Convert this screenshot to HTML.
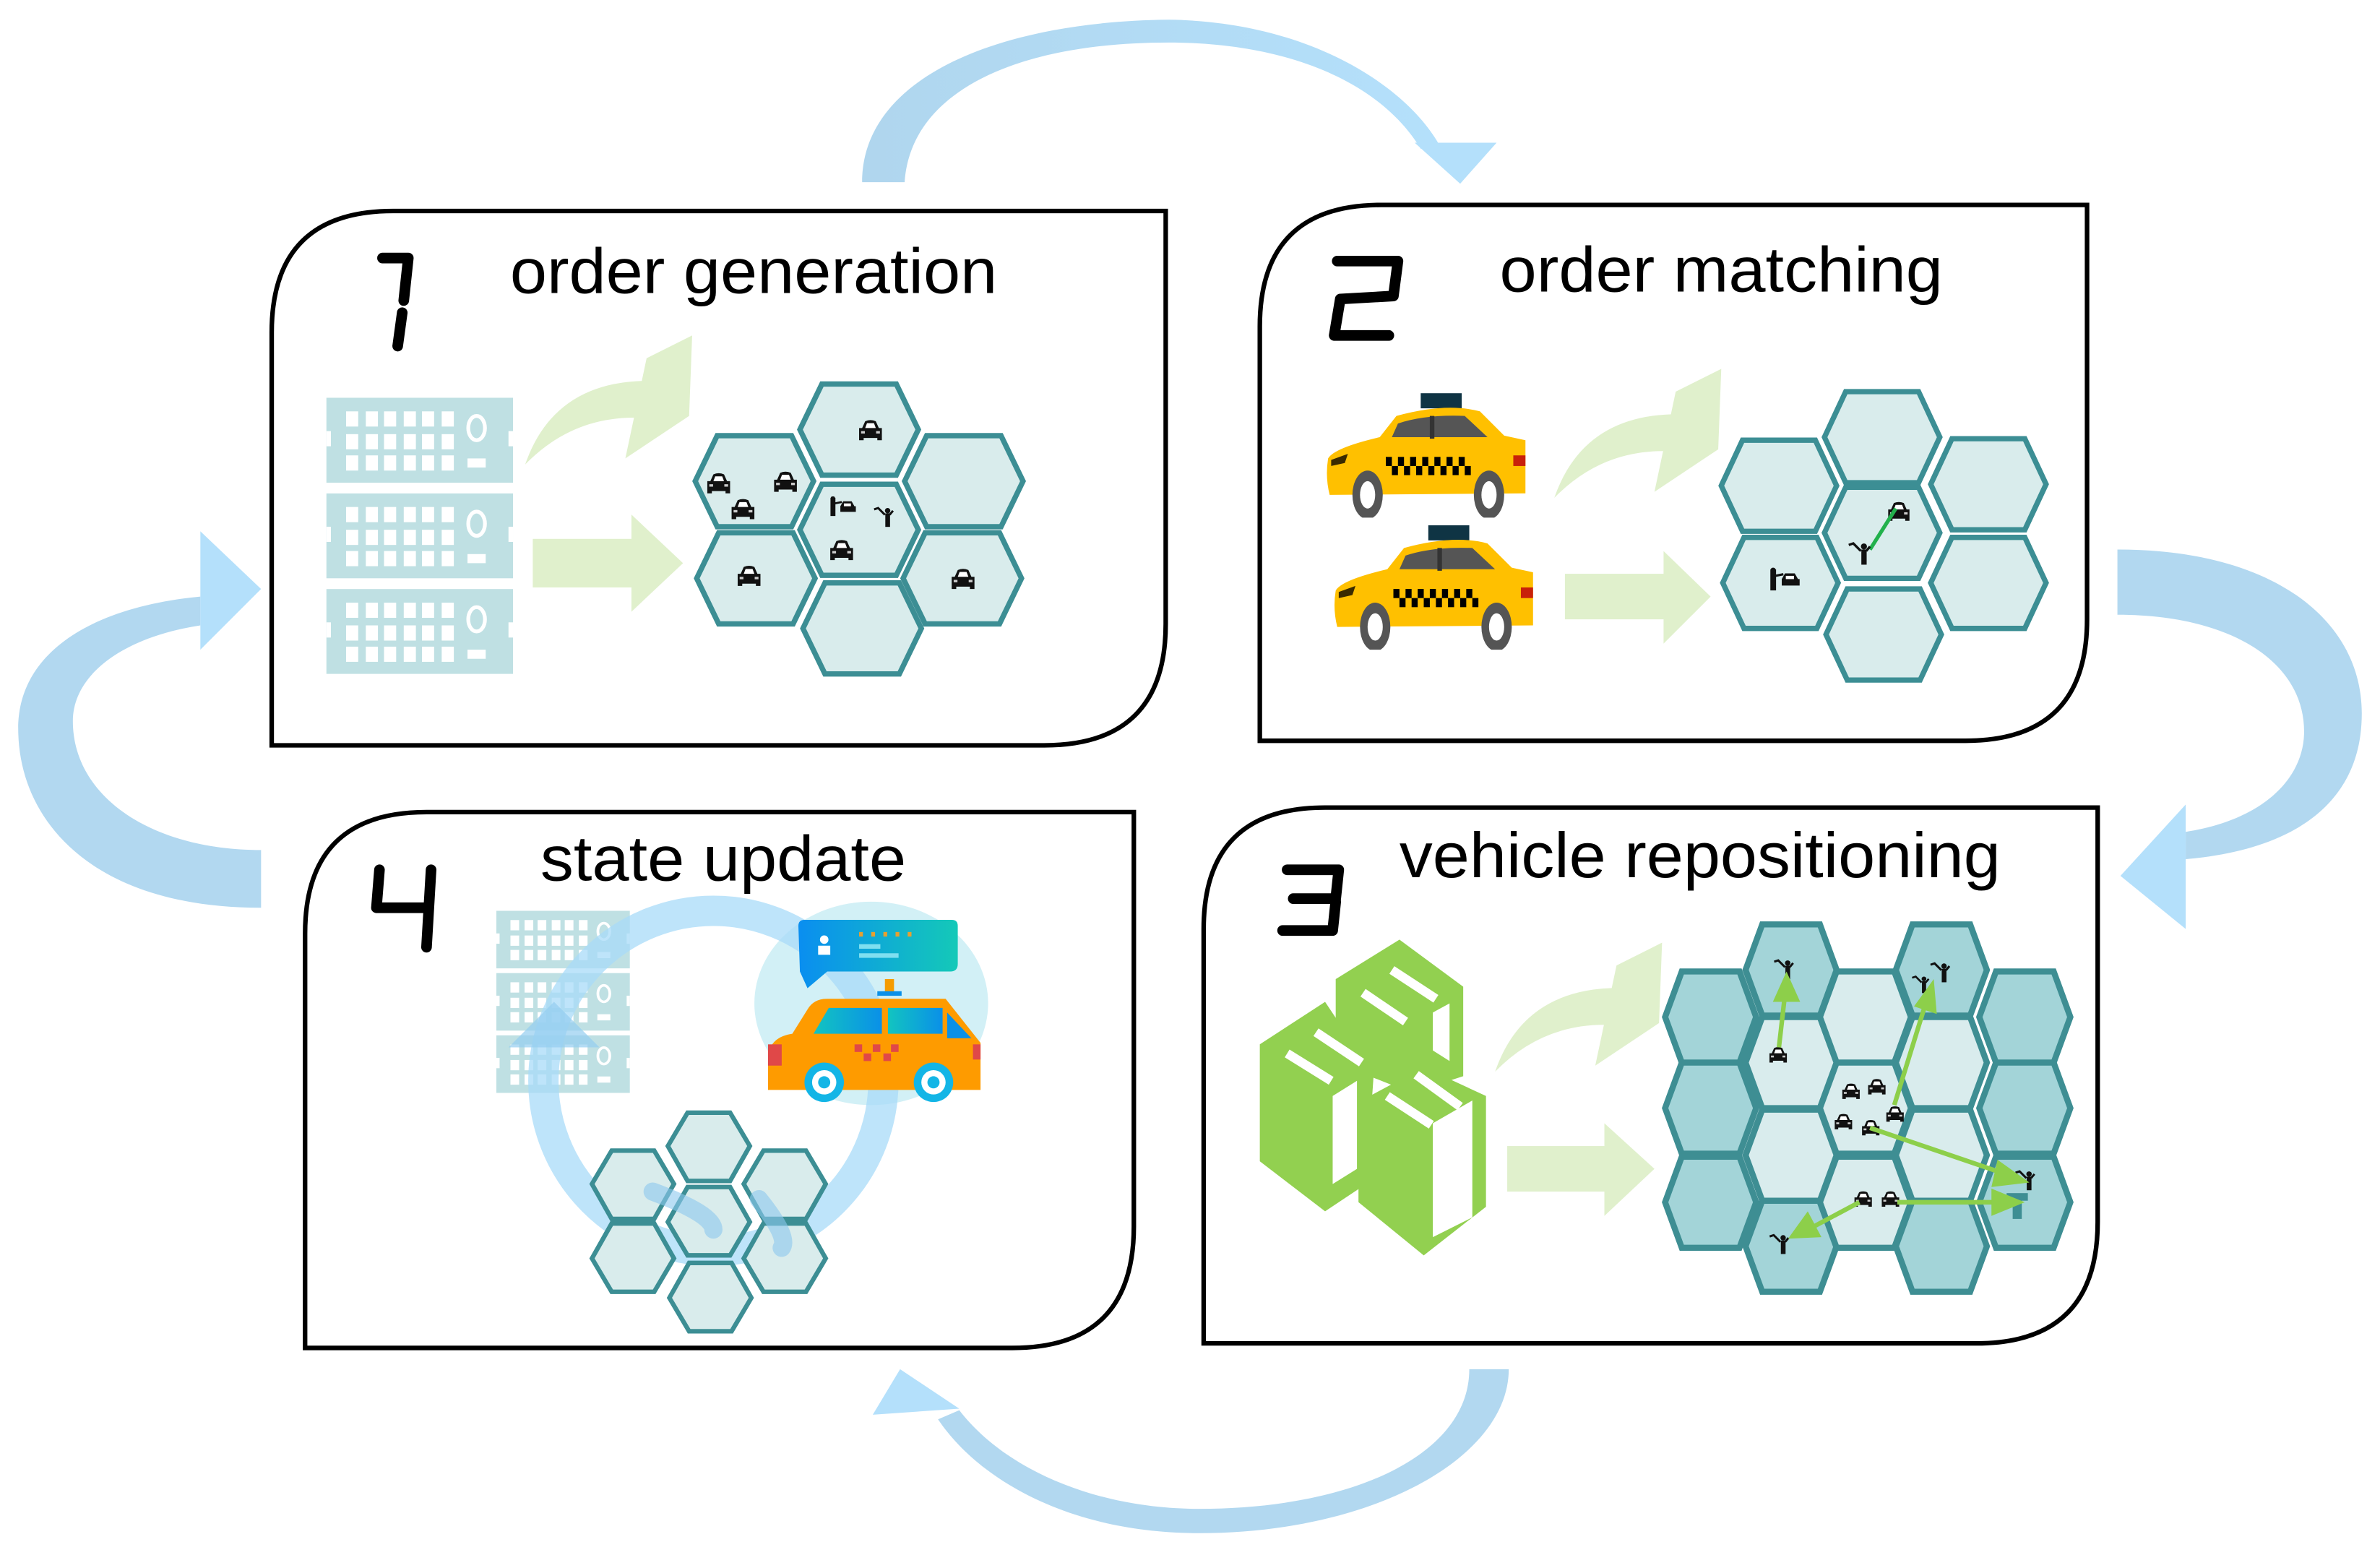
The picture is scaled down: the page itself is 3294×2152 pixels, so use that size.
<!DOCTYPE html>
<html><head><meta charset="utf-8"><style>
html,body{margin:0;padding:0;background:#fff;}
svg{display:block;}
text{font-family:"Liberation Sans",Arial,sans-serif;}
</style></head><body>
<svg width="3294" height="2152" viewBox="0 0 1568 1024.4" preserveAspectRatio="none" xmlns="http://www.w3.org/2000/svg">
<defs>
<linearGradient id="arcg" x1="0" y1="0" x2="1" y2="0"><stop offset="0" stop-color="#b0d6ee"/><stop offset="1" stop-color="#b4e0fb"/></linearGradient>
<symbol id="rack" viewBox="0 0 123 56" preserveAspectRatio="none">
<rect x="0" y="0" width="123" height="56" fill="#bfe0e3"/>
<rect x="0" y="22" width="3" height="10" fill="#fff"/><rect x="120" y="22" width="3" height="10" fill="#fff"/>
<g fill="#fff">
<rect x="13" y="9" width="8" height="10"/><rect x="26" y="9" width="8" height="10"/><rect x="38" y="9" width="8" height="10"/><rect x="51" y="9" width="8" height="10"/><rect x="63" y="9" width="8" height="10"/><rect x="76" y="9" width="8" height="10"/>
<rect x="13" y="24" width="8" height="10"/><rect x="26" y="24" width="8" height="10"/><rect x="38" y="24" width="8" height="10"/><rect x="51" y="24" width="8" height="10"/><rect x="63" y="24" width="8" height="10"/><rect x="76" y="24" width="8" height="10"/>
<rect x="13" y="38" width="8" height="10"/><rect x="26" y="38" width="8" height="10"/><rect x="38" y="38" width="8" height="10"/><rect x="51" y="38" width="8" height="10"/><rect x="63" y="38" width="8" height="10"/><rect x="76" y="38" width="8" height="10"/>
<rect x="93" y="40" width="12" height="6"/>
</g>
<ellipse cx="99" cy="20" rx="5.5" ry="8" fill="none" stroke="#fff" stroke-width="2.5"/>
</symbol>
<symbol id="car" viewBox="0 0 17 15">
<path d="M3,6 L5,1.5 Q8.5,0 12,1.5 L14,6 L16,6 L16,14 L13,14 L13,12.5 L4,12.5 L4,14 L1,14 L1,6 Z" fill="#111"/>
<path d="M5,6 L6.2,2.8 L10.8,2.8 L12,6 Z" fill="#fff"/>
<rect x="2.3" y="8" width="2.5" height="1.6" fill="#ccc"/><rect x="12.2" y="8" width="2.5" height="1.6" fill="#ccc"/>
</symbol>
<symbol id="person" viewBox="0 0 18 18">
<circle cx="11" cy="5" r="2" fill="#111"/>
<rect x="9.3" y="7" width="3.5" height="10" fill="#111"/>
<path d="M1,4 L4,3 L9,8 M12.5,8 L15,5" stroke="#111" stroke-width="1.6" fill="none"/>
</symbol>
<symbol id="pcar" viewBox="0 0 20 14">
<rect x="1" y="1" width="3.5" height="13" fill="#111"/><circle cx="2.7" cy="1.5" r="1.6" fill="#111"/>
<path d="M4,5 L9,4" stroke="#111" stroke-width="1.4"/>
<path d="M8,7 L10,3.5 L16,3.5 L18,7 L19,7 L19,11 L8,11 Z" fill="#111"/><rect x="10.5" y="5" width="5" height="2" fill="#fff"/>
</symbol>
<symbol id="taxi" viewBox="0 0 134 82">
<rect x="63" y="0" width="27" height="10" fill="#0f3444"/>
<path d="M2,43 Q6,36 36,29 L47,15 Q80,6 102,12 L118,28 L132,31 L132,66 L3,67 Q0,55 2,43 Z" fill="#ffc000"/>
<path d="M44,29 L48,20 Q66,14 92,15 L107,29 Z" fill="#555"/>
<rect x="69" y="15" width="3" height="15" fill="#333"/>
<g fill="#000"><rect x="40" y="42" width="4" height="6"/><rect x="48" y="42" width="4" height="6"/><rect x="56" y="42" width="4" height="6"/><rect x="64" y="42" width="4" height="6"/><rect x="72" y="42" width="4" height="6"/><rect x="80" y="42" width="4" height="6"/><rect x="88" y="42" width="4" height="6"/>
<rect x="44" y="48" width="4" height="6"/><rect x="52" y="48" width="4" height="6"/><rect x="60" y="48" width="4" height="6"/><rect x="68" y="48" width="4" height="6"/><rect x="76" y="48" width="4" height="6"/><rect x="84" y="48" width="4" height="6"/><rect x="92" y="48" width="4" height="6"/></g>
<path d="M4,44 L15,40 L13,46 L4,48 Z" fill="#3a2a00"/>
<rect x="124" y="41" width="8" height="7" fill="#c8200a"/>
<ellipse cx="28" cy="67" rx="10" ry="16" fill="#555"/><ellipse cx="28" cy="67" rx="5" ry="9" fill="#fff"/>
<ellipse cx="108" cy="67" rx="10" ry="16" fill="#555"/><ellipse cx="108" cy="67" rx="5" ry="9" fill="#fff"/>
</symbol>
<symbol id="garrow" viewBox="0 0 110 80" overflow="visible">
<path d="M0,80 Q20,22 88,25 L86,50 Q35,44 0,80 Z" fill="#e0f0cc"/>
<polygon points="80,10 110,-5 108,48 66,76" fill="#e0f0cc"/>
</symbol>
</defs>

<!-- outer cycle arrows -->
<path d="M568,120 C568,50 660,14 770,13 C860,14 925,55 948,95 L936,98 C910,55 850,28 770,28 C670,28 600,60 596,120 Z" fill="url(#arcg)"/>
<polygon points="932,94 986,94 962,121" fill="#b4e0fb"/>
<path d="M1395,362 C1500,362 1556,410 1556,470 C1556,530 1510,560 1440,566 L1440,548 C1492,540 1518,512 1518,482 C1518,436 1470,405 1395,405 Z" fill="#b2d8f0"/>
<polygon points="1440,530 1397,577 1440,612" fill="#b4e0fb"/>
<path d="M172,598 C60,598 12,540 12,480 C12,430 60,400 132,393 L132,412 C80,420 48,445 48,475 C48,525 100,560 172,560 Z" fill="#b2d8f0"/>
<polygon points="132,350 172,388 132,428" fill="#b4e0fb"/>
<path d="M968,902 L994,902 C994,960 905,1010 790,1010 C705,1010 645,975 618,935 L632,929 C662,968 722,994 790,994 C892,994 968,958 968,902 Z" fill="#b2d8f0"/>
<polygon points="593,902 575,932 632,928" fill="#b4e0fb"/>

<!-- Boxes -->
<g fill="#fff" stroke="#000" stroke-width="3">
<path d="M259,139 L768,139 L768,411 Q768,491 688,491 L179,491 L179,219 Q179,139 259,139 Z"/>
<path d="M910,135 L1375,135 L1375,408 Q1375,488 1295,488 L830,488 L830,215 Q830,135 910,135 Z"/>
<path d="M281,535 L747,535 L747,808 Q747,888 667,888 L201,888 L201,615 Q201,535 281,535 Z"/>
<path d="M873,532 L1382,532 L1382,805 Q1382,885 1302,885 L793,885 L793,612 Q793,532 873,532 Z"/>
</g>

<!-- digits -->
<g fill="none" stroke="#000" stroke-width="7" stroke-linecap="round" stroke-linejoin="round">
<path d="M252,170 L269,170 L266,198 M265,206 L262,228"/>
<path d="M881,172 L921,172 L918,195 L883,197 L879,221 L915,221"/>
<path d="M848,573 L882,573 L880,592 L852,592 M880,594 L878,613 L845,613"/>
<path d="M250,573 L248,598 L280,598 M284,573 L281,624"/>
</g>

<!-- titles -->
<g font-size="42" fill="#000">
<text x="336" y="193" textLength="321" lengthAdjust="spacingAndGlyphs">order generation</text>
<text x="988" y="192" textLength="292" lengthAdjust="spacingAndGlyphs">order matching</text>
<text x="356" y="580" textLength="241" lengthAdjust="spacingAndGlyphs">state update</text>
<text x="922" y="578" textLength="396" lengthAdjust="spacingAndGlyphs">vehicle repositioning</text>
</g>

<!-- Box1 content -->
<use href="#rack" x="215" y="262" width="123" height="56"/>
<use href="#rack" x="215" y="325" width="123" height="56"/>
<use href="#rack" x="215" y="388" width="123" height="56"/>
<rect x="351" y="355" width="66" height="32" fill="#e0f0cc"/>
<polygon points="416,339 450,371 416,403" fill="#e0f0cc"/>
<use href="#garrow" x="346" y="226" width="110" height="80"/>
<g fill="#d9ecec" stroke="#3c8e94" stroke-width="3.5">
<polygon points="527,283 541.5,253 590.5,253 605,283 590.5,313 541.5,313"/>
<polygon points="458,317 472.5,287 521.5,287 536,317 521.5,347 472.5,347"/>
<polygon points="596,317 610.5,287 659.5,287 674,317 659.5,347 610.5,347"/>
<polygon points="527,349 541.5,319 590.5,319 605,349 590.5,379 541.5,379"/>
<polygon points="459,381 473.5,351 522.5,351 537,381 522.5,411 473.5,411"/>
<polygon points="595,381 609.5,351 658.5,351 673,381 658.5,411 609.5,411"/>
<polygon points="529,414 543.5,384 592.5,384 607,414 592.5,444 543.5,444"/>
</g>
<use href="#car" x="565" y="276" width="17" height="15"/>
<use href="#car" x="465" y="311" width="17" height="15"/>
<use href="#car" x="509" y="310" width="17" height="15"/>
<use href="#car" x="481" y="328" width="17" height="15"/>
<use href="#pcar" x="546" y="327" width="19" height="13"/>
<use href="#person" x="575" y="332" width="16" height="16"/>
<use href="#car" x="546" y="355" width="17" height="15"/>
<use href="#car" x="485" y="372" width="17" height="15"/>
<use href="#car" x="626" y="374" width="17" height="15"/>

<!-- Box2 content -->
<use href="#taxi" x="873" y="259" width="134" height="82"/>
<use href="#taxi" x="878" y="346" width="134" height="82"/>
<rect x="1031" y="378" width="66" height="30" fill="#e0f0cc"/>
<polygon points="1096,363 1127,393 1096,424" fill="#e0f0cc"/>
<use href="#garrow" x="1024" y="248" width="110" height="80"/>
<g fill="#d9ecec" stroke="#3c8e94" stroke-width="3.5">
<polygon points="1202,288 1216,258 1264,258 1278,288 1264,318 1216,318"/>
<polygon points="1134,320 1148,290 1196,290 1210,320 1196,350 1148,350"/>
<polygon points="1272,319 1286,289 1334,289 1348,319 1334,349 1286,349"/>
<polygon points="1202,351 1216,321 1264,321 1278,351 1264,381 1216,381"/>
<polygon points="1135,384 1149,354 1197,354 1211,384 1197,414 1149,414"/>
<polygon points="1272,384 1286,354 1334,354 1348,384 1334,414 1286,414"/>
<polygon points="1203,418 1217,388 1265,388 1279,418 1265,448 1217,448"/>
</g>
<use href="#car" x="1243" y="330" width="16" height="14"/>
<line x1="1232" y1="362" x2="1249" y2="335" stroke="#22b14c" stroke-width="2.5"/>
<use href="#person" x="1217" y="355" width="18" height="18"/>
<use href="#pcar" x="1165" y="374" width="22" height="15"/>

<!-- Box3 content -->
<g fill="#92d050">
<polygon points="873,660 830,688 830,765 873,798 900,780 905,708"/>
<polygon points="922,619 880,645 880,700 930,720 964,709 964,650"/>
<polygon points="938,703 895,726 895,792 938,827 979,795 979,722"/>
</g>
<g fill="#fff">
<polygon points="878,722 894,712 894,770 878,780"/>
<polygon points="944,667 955,661 955,699 944,692"/>
<polygon points="944,740 970,725 970,802 944,815"/>
</g>
<g stroke="#fff" stroke-width="6" stroke-linecap="butt">
<line x1="848" y1="694" x2="877" y2="712"/><line x1="867" y1="680" x2="897" y2="700"/>
<line x1="898" y1="654" x2="926" y2="673"/><line x1="917" y1="639" x2="946" y2="658"/>
<line x1="914" y1="722" x2="943" y2="741"/><line x1="933" y1="708" x2="962" y2="729"/>
</g>
<rect x="993" y="755" width="65" height="30" fill="#e0f0cc"/>
<polygon points="1057,740 1090,770 1057,801" fill="#e0f0cc"/>
<use href="#garrow" x="985" y="626" width="110" height="80"/>
<g stroke="#3e8e93" stroke-width="4">
<g fill="#a3d4d8">
<polygon points="1097,670 1108,640 1146,640 1157,670 1146,700 1108,700"/>
<polygon points="1097,730 1108,700 1146,700 1157,730 1146,760 1108,760"/>
<polygon points="1097,792 1108,762 1146,762 1157,792 1146,822 1108,822"/>
<polygon points="1150,639 1161,609 1199,609 1210,639 1199,669 1161,669"/>
<polygon points="1150,821 1161,791 1199,791 1210,821 1199,851 1161,851"/>
<polygon points="1249,639 1260,609 1298,609 1309,639 1298,669 1260,669"/>
<polygon points="1249,821 1260,791 1298,791 1309,821 1298,851 1260,851"/>
<polygon points="1304,670 1315,640 1353,640 1364,670 1353,700 1315,700"/>
<polygon points="1304,730 1315,700 1353,700 1364,730 1353,760 1315,760"/>
<polygon points="1304,792 1315,762 1353,762 1364,792 1353,822 1315,822"/>
</g>
<g fill="#d9eced">
<polygon points="1150,700 1161,670 1199,670 1210,700 1199,730 1161,730"/>
<polygon points="1150,761 1161,731 1199,731 1210,761 1199,791 1161,791"/>
<polygon points="1199,670 1210,640 1248,640 1259,670 1248,700 1210,700"/>
<polygon points="1199,730 1210,700 1248,700 1259,730 1248,760 1210,760"/>
<polygon points="1199,792 1210,762 1248,762 1259,792 1248,822 1210,822"/>
<polygon points="1249,700 1260,670 1298,670 1309,700 1298,730 1260,730"/>
<polygon points="1249,761 1260,731 1298,731 1309,761 1298,791 1260,791"/>
</g>
</g>
<use href="#person" x="1168" y="630" width="16" height="16"/>
<use href="#person" x="1271" y="632" width="16" height="16"/>
<use href="#person" x="1259" y="641" width="14" height="14"/>
<use href="#person" x="1327" y="769" width="16" height="16"/>
<use href="#person" x="1165" y="811" width="16" height="16"/>
<rect x="1326" y="790" width="6" height="13" fill="#3e8e93"/><rect x="1322" y="786" width="14" height="5" fill="#3e8e93"/>
<use href="#car" x="1165" y="689" width="13" height="12"/>
<use href="#car" x="1213" y="713" width="13" height="12"/>
<use href="#car" x="1230" y="710" width="13" height="12"/>
<use href="#car" x="1242" y="728" width="13" height="12"/>
<use href="#car" x="1208" y="733" width="13" height="12"/>
<use href="#car" x="1226" y="737" width="13" height="12"/>
<use href="#car" x="1221" y="784" width="13" height="12"/>
<use href="#car" x="1239" y="784" width="13" height="12"/>
<g stroke="#8dcf4a" stroke-width="3" fill="#8dcf4a">
<line x1="1172" y1="690" x2="1176" y2="655"/><polygon points="1168,660 1177,640 1186,660" stroke="none"/>
<line x1="1248" y1="728" x2="1269" y2="660"/><polygon points="1261,663 1274,645 1276,668" stroke="none"/>
<line x1="1232" y1="743" x2="1320" y2="773"/><polygon points="1316,764 1337,779 1312,782" stroke="none"/>
<line x1="1250" y1="792" x2="1315" y2="792"/><polygon points="1312,783 1334,792 1312,801" stroke="none"/>
<line x1="1225" y1="792" x2="1195" y2="808"/><polygon points="1191,798 1178,816 1200,815" stroke="none"/>
</g>

<!-- Box4 content -->
<use href="#rack" x="327" y="600" width="88" height="38"/>
<use href="#rack" x="327" y="641" width="88" height="38"/>
<use href="#rack" x="327" y="682" width="88" height="38"/>
<ellipse cx="574" cy="661" rx="77" ry="67" fill="#cdeef5" opacity="0.9"/>
<circle cx="470" cy="712" r="112" fill="none" stroke="#a8dbf8" stroke-width="20" opacity="0.75"/>
<polygon points="335,690 365,660 395,690" fill="#94cdf0" opacity="0.7"/>
<g fill="#d9ecec" stroke="#3c8e94" stroke-width="3">
<polygon points="440,755 453,733 481,733 494,755 481,778 453,778"/>
<polygon points="390,780 403,758 431,758 444,780 431,803 403,803"/>
<polygon points="490,780 503,758 531,758 544,780 531,803 503,803"/>
<polygon points="440,805 453,782 481,782 494,805 481,827 453,827"/>
<polygon points="390,829 403,806 431,806 444,829 431,851 403,851"/>
<polygon points="490,829 503,806 531,806 544,829 531,851 503,851"/>
<polygon points="441,855 454,832 482,832 495,855 482,877 454,877"/>
</g>
<path d="M430,785 Q470,800 470,810 M500,790 Q520,815 515,822" stroke="#8cc8ee" stroke-width="12" fill="none" opacity="0.6" stroke-linecap="round"/>
<defs><linearGradient id="bub" x1="0" x2="1"><stop offset="0" stop-color="#0a8ef0"/><stop offset="1" stop-color="#14c9b8"/></linearGradient>
<linearGradient id="win" x1="0" x2="1"><stop offset="0" stop-color="#12c4c0"/><stop offset="1" stop-color="#0a90e8"/></linearGradient></defs>
<path d="M530,606 L627,606 Q631,606 631,610 L631,635 Q631,640 626,640 L545,640 L532,651 L527,640 L526,610 Q526,606 530,606 Z" fill="url(#bub)"/>
<circle cx="543" cy="619" r="2.8" fill="#fff"/><rect x="539" y="623" width="8" height="6" fill="#fff"/>
<g fill="#e8a030"><rect x="566" y="614" width="2.5" height="3"/><rect x="574" y="614" width="2.5" height="3"/><rect x="582" y="614" width="2.5" height="3"/><rect x="590" y="614" width="2.5" height="3"/><rect x="598" y="614" width="2.5" height="3"/></g>
<rect x="566" y="622" width="14" height="3" fill="#7fdff0"/><rect x="566" y="628" width="26" height="3" fill="#7fdff0"/>
<rect x="583" y="645" width="6" height="9" fill="#f59c00"/><rect x="578" y="653" width="16" height="3" fill="#0a90e8"/>
<path d="M506,695 Q508,683 522,681 L532,665 Q536,658 545,658 L623,658 L646,687 L646,718 L506,718 Z" fill="#fe9b00"/>
<path d="M536,681 L546,664 L581,664 L581,681 Z" fill="url(#win)"/>
<path d="M585,664 L621,664 L621,681 L585,681 Z" fill="url(#win)"/>
<path d="M624,667 L640,684 L624,684 Z" fill="#0a90e8"/>
<rect x="506" y="688" width="9" height="14" fill="#e04848"/><rect x="641" y="688" width="5" height="10" fill="#e04848"/>
<g fill="#e04848"><rect x="563" y="688" width="5" height="5"/><rect x="575" y="688" width="5" height="5"/><rect x="587" y="688" width="5" height="5"/><rect x="569" y="694" width="5" height="5"/><rect x="582" y="694" width="5" height="5"/></g>
<circle cx="543" cy="713" r="13" fill="#13b5e6"/><circle cx="543" cy="713" r="8" fill="#fff"/><circle cx="543" cy="713" r="4" fill="#13b5e6"/>
<circle cx="615" cy="713" r="13" fill="#13b5e6"/><circle cx="615" cy="713" r="8" fill="#fff"/><circle cx="615" cy="713" r="4" fill="#13b5e6"/>
</svg>
</body></html>
